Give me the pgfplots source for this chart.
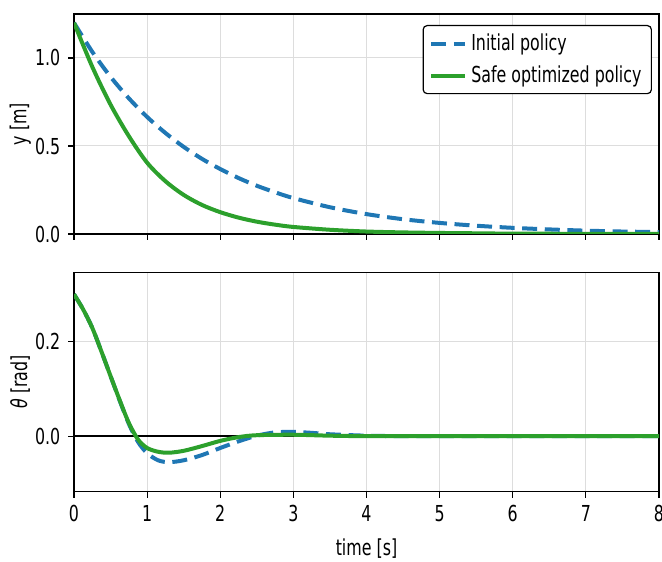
\documentclass[border=0pt]{standalone}
\usepackage{fontspec}
\setmainfont{DejaVu Sans}[FakeStretch=0.72]
\usepackage{pgfplots}
\pgfplotsset{compat=1.18}
\definecolor{mblue}{HTML}{1F77B4}
\definecolor{mgreen}{HTML}{2CA02C}
\definecolor{mgrid}{HTML}{DDDDDD}
\begin{document}
\fontsize{11}{13}\selectfont
\begin{tikzpicture}
\useasboundingbox (0,0) rectangle (331pt,280.5pt);
\pgfplotsset{
  every axis/.style={
    scale only axis, width=292.5pt,
    xmin=0, xmax=8,
    xtick={0,1,2,3,4,5,6,7,8},
    grid=major,
    major grid style={mgrid, line width=0.5pt},
    axis line style={line width=0.75pt, black},
    tick align=outside,
    major tick length=3pt,
    tick style={black, line width=0.6pt},
    xtick pos=bottom, ytick pos=left,
    /pgf/number format/assume math mode=true,
    tick label style={font=\fontsize{11}{13}\selectfont},
    label style={font=\fontsize{11}{13}\selectfont},
    anchor=south west,
  }
}
% Top axis
\begin{axis}[
  at={(37pt,163.5pt)}, height=110pt,
  ymin=0, ymax=1.25,
  ytick={0,0.5,1.0},
  yticklabels={0.0,0.5,1.0},
  xticklabels={},
  ylabel={y [m]},
  ylabel style={at={(axis description cs:-0.092,0.5)}, anchor=center},
  legend style={at={(1,1)}, anchor=north east, xshift=-3.5pt, yshift=-5.5pt,
    draw=black, line width=0.6pt, rounded corners=2pt,
    font=\fontsize{11}{13}\selectfont, row sep=2pt, inner xsep=3pt, inner ysep=2pt},
  legend cell align=left,
]
\addplot[mblue, line width=2pt, dash pattern=on 7.5pt off 3.8pt, smooth] coordinates {
(0,1.2) (0.25,1.035) (0.5,0.893) (0.75,0.771) (1,0.665) (1.25,0.574) (1.5,0.495)
(1.75,0.427) (2,0.369) (2.25,0.318) (2.5,0.274) (2.75,0.237) (3,0.204) (3.5,0.152)
(4,0.113) (4.5,0.084) (5,0.063) (5.5,0.047) (6,0.035) (6.5,0.026) (7,0.019)
(7.5,0.014) (8,0.011)};
\addlegendentry{Initial policy}
\addplot[mgreen, line width=2pt, smooth] coordinates {
(0,1.2) (0.25,0.95) (0.5,0.735) (0.75,0.556) (1,0.405) (1.25,0.300) (1.5,0.222)
(1.75,0.165) (2,0.124) (2.25,0.093) (2.5,0.070) (2.75,0.053) (3,0.040) (3.5,0.024)
(4,0.014) (4.5,0.009) (5,0.006) (5.5,0.004) (6,0.002) (7,0.001) (8,0.0)};
\addlegendentry{Safe optimized policy}
\end{axis}
% Bottom axis
\begin{axis}[
  at={(37pt,34.75pt)}, height=109.5pt,
  ymin=-0.117, ymax=0.346,
  ytick={0,0.2},
  yticklabels={0.0,0.2},
  xlabel={time [s]},
  xlabel style={at={(axis description cs:0.5,-0.26)}, anchor=center},
  ylabel={{\itshape θ} [rad]},
  ylabel style={at={(axis description cs:-0.092,0.5)}, anchor=center},
]
\addplot[black, line width=0.75pt, forget plot] coordinates {(0,0) (8,0)};
\addplot[mblue, line width=2pt, dash pattern=on 7.5pt off 3.8pt, smooth] coordinates {
(0,0.3) (0.125,0.268) (0.25,0.229) (0.375,0.179) (0.5,0.127) (0.625,0.075)
(0.75,0.026) (0.875,-0.012) (1,-0.036) (1.15,-0.051)
(1.3,-0.055) (1.5,-0.051) (1.75,-0.040) (2,-0.025) (2.25,-0.011) (2.5,0.001)
(2.75,0.008) (3,0.009) (3.25,0.007) (3.5,0.004) (4,0.001) (4.5,0.0) (5,0.0)
(6,0.0) (7,0.0) (8,0.0)};
\addplot[mgreen, line width=2pt, smooth] coordinates {
(0,0.3) (0.125,0.268) (0.25,0.229) (0.375,0.179) (0.5,0.127) (0.625,0.076)
(0.75,0.028) (0.875,-0.007) (1,-0.025) (1.15,-0.033)
(1.3,-0.035) (1.5,-0.031) (1.75,-0.021) (2,-0.010) (2.25,-0.002) (2.5,0.002)
(3,0.003) (3.5,0.001) (4,0.0) (5,0.0) (6,0.0) (7,0.0) (8,0.0)};
\end{axis}
\end{tikzpicture}
\end{document}
